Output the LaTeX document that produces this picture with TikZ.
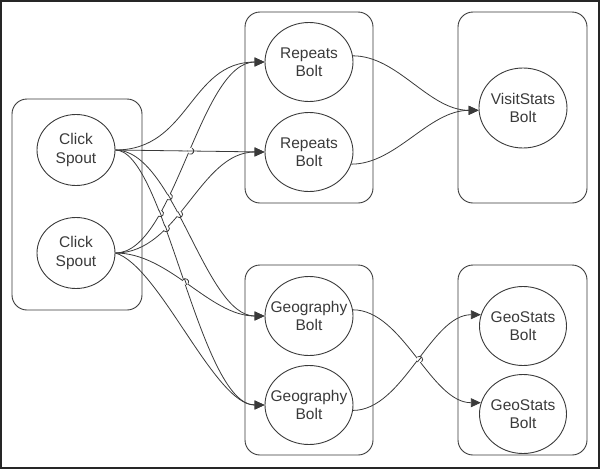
\documentclass[tikz,border=0pt]{standalone}
\usepackage{fontspec}
\setmainfont{Liberation Sans}
\usetikzlibrary{arrows.meta,shapes.geometric,intersections,calc}
\definecolor{ink}{HTML}{3A3A3A}
\definecolor{framec}{HTML}{262626}
\newcommand\hopover[4]{%
  \path[name intersections={of=#1 and #2, by=X#3}];
  \path[name path=C#3] (X#3) circle[radius=3.2pt];
  \path[name intersections={of=#1 and C#3, by={P#3,Q#3}}];
  \fill[white] (X#3) circle[radius=3pt];
  \begin{scope}\clip (X#3) circle[radius=3.5pt]; \draw[wire] #4; \end{scope}
  \draw[wire] (P#3) .. controls ($(P#3)!4pt!90:(Q#3)$) and ($(Q#3)!4pt!-90:(P#3)$) .. (Q#3);
}
\begin{document}
\begin{tikzpicture}[x=1pt,y=-1pt,
  box/.style={draw=ink, line width=0.9pt, rounded corners=15pt, inner sep=0pt},
  bolt/.style={draw=ink, line width=0.9pt, ellipse, minimum width=88pt, minimum height=79pt, inner sep=0pt},
  spout/.style={bolt, minimum width=78pt, minimum height=71pt},
  lbl/.style={align=center, text=ink, font=\fontsize{15.5}{18.5}\selectfont, inner sep=0pt},
  wire/.style={draw=ink, line width=0.8pt},
  flow/.style={wire, -{Triangle[length=10pt,width=9pt]}}]
\useasboundingbox (0,0) rectangle (600,469);
\draw[framec, line width=2pt] (1,1) rectangle (599,468);
% containers
\node[box, minimum width=130pt, minimum height=211pt] (cspout) at (77,204.5) {};
\node[box, minimum width=128pt, minimum height=191pt] (crep) at (309,107.5) {};
\node[box, minimum width=129pt, minimum height=191pt] (cvis) at (522.5,107.5) {};
\node[box, minimum width=128pt, minimum height=190pt] (cgeo) at (309,360) {};
\node[box, minimum width=129pt, minimum height=190pt] (cgs) at (522.5,360) {};
% nodes
\node[spout, label={[lbl]center:Click\\Spout}] (cs1) at (76,150) {};
\node[spout, label={[lbl]center:Click\\Spout}] (cs2) at (76,253) {};
\node[bolt, label={[lbl]center:Repeats\\Bolt}] (r1) at (309,62) {};
\node[bolt, label={[lbl]center:Repeats\\Bolt}] (r2) at (309,152) {};
\node[bolt, minimum height=80pt, label={[lbl]center:VisitStats\\Bolt}] (vs) at (523,108) {};
\node[bolt, label={[lbl]center:Geography\\Bolt}] (g1) at (309,316) {};
\node[bolt, label={[lbl]center:Geography\\Bolt}] (g2) at (309,405) {};
\node[bolt, minimum width=87pt, label={[lbl]center:GeoStats\\Bolt}] (gs1) at (523,326) {};
\node[bolt, minimum width=87pt, label={[lbl]center:GeoStats\\Bolt}] (gs2) at (523,414) {};
% spout -> bolts
\draw[flow, name path=aR1] (cs1.east) .. controls +(74,0) and +(-75,0) .. (r1.west);
\draw[flow, name path=aR2] (cs1.east) -- (r2.west);
\draw[flow, name path=aG1] (cs1.east) .. controls +(59,0) and +(-60,0) .. (g1.west);
\draw[flow, name path=aG2] (cs1.east) .. controls +(49,0) and +(-65,0) .. (g2.west);
\draw[flow, name path=bR1] (cs2.east) .. controls +(59,0) and +(-65,0) .. (r1.west);
\draw[flow, name path=bR2] (cs2.east) .. controls +(64,0) and +(-65,0) .. (r2.west);
\draw[flow, name path=bG1] (cs2.east) .. controls +(54,0) and +(-55,0) .. (g1.west);
\draw[flow, name path=bG2] (cs2.east) .. controls +(44,13) and +(-50,0) .. (g2.west);
% bolts -> stats
\draw[flow] (r1.8) .. controls +(45,0) and +(-50,0) .. (vs.183);
\draw[flow] (r2.344) .. controls +(45,0) and +(-50,0) .. (vs.183);
\draw[flow, name path=gA] (g1.8) .. controls +(50,0) and +(-50,0) .. (gs2.165);
\draw[flow, name path=gB] (g2.353) .. controls +(50,0) and +(-50,0) .. (gs1.165);
% line jumps
\hopover{bR1}{aR2}{a}{(cs1.east) -- (r2.west)}
\hopover{bR1}{aG1}{b}{(cs1.east) .. controls +(59,0) and +(-60,0) .. (g1.west)}
\hopover{bR1}{aG2}{c}{(cs1.east) .. controls +(49,0) and +(-65,0) .. (g2.west)}
\hopover{bR2}{aG1}{d}{(cs1.east) .. controls +(59,0) and +(-60,0) .. (g1.west)}
\hopover{bR2}{aG2}{e}{(cs1.east) .. controls +(49,0) and +(-65,0) .. (g2.west)}
\hopover{bG1}{aG2}{f}{(cs1.east) .. controls +(49,0) and +(-65,0) .. (g2.west)}
\hopover{gA}{gB}{g}{(g2.353) .. controls +(50,0) and +(-50,0) .. (gs1.165)}
\end{tikzpicture}
\end{document}
